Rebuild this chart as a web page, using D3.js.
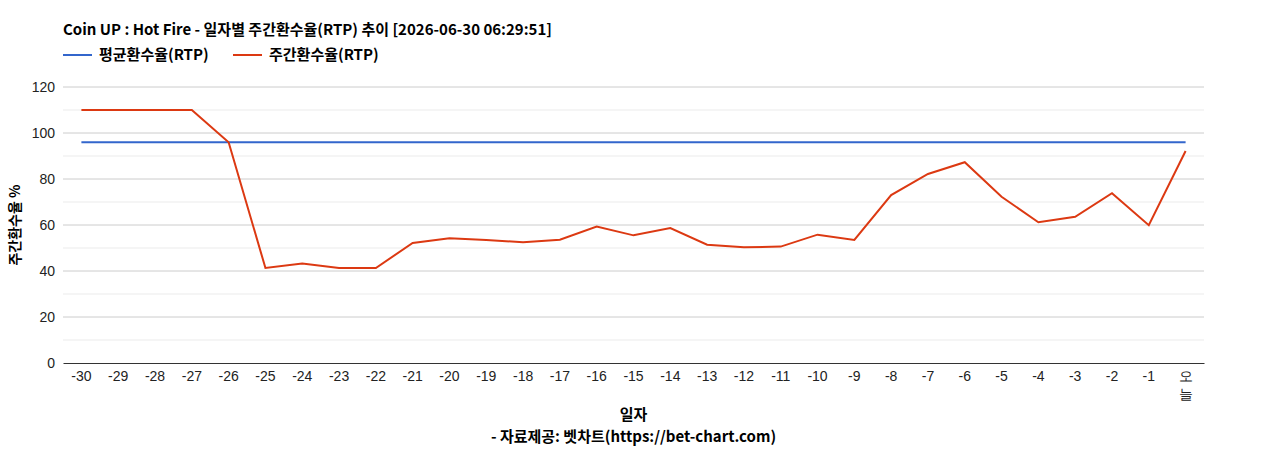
<!DOCTYPE html>
<html>
<head>
<meta charset="utf-8">
<script src="https://cdn.jsdelivr.net/npm/d3@7"></script>
<style>
  body { margin: 0; background: #fff; }
  svg { display: block; }
  .tick text { font-family: "Liberation Sans", Arial, sans-serif; font-size: 14px; fill: #222; }
  .bold { font-family: "Noto Sans CJK KR", "Noto Sans", sans-serif; font-weight: bold; font-size: 15px; fill: #000; }
</style>
</head>
<body>
<svg id="chart"></svg>
<script>
// data
const days = ["-30","-29","-28","-27","-26","-25","-24","-23","-22","-21","-20","-19","-18","-17","-16","-15",
              "-14","-13","-12","-11","-10","-9","-8","-7","-6","-5","-4","-3","-2","-1","오늘"];
const weeklyRtp = [110, 110, 110, 110, 96, 41.3, 43.3, 41.3, 41.3, 52.2, 54.2, 53.5, 52.5, 53.6, 59.3, 55.5,
                   58.7, 51.4, 50.3, 50.6, 55.8, 53.5, 73.0, 82.2, 87.3, 72.3, 61.2, 63.6, 73.8, 59.9, 92.2];
const avgRtp = days.map(() => 96);
const yTicks = [0, 20, 40, 60, 80, 100, 120];
const yMinor = [10, 30, 50, 70, 90, 110];

const width = 1268, height = 450;
const margin = { top: 87, left: 63, right: 64, bottom: 87 };
const w = width - margin.left - margin.right;
const h = height - margin.top - margin.bottom;

const svg = d3.select("#chart").attr("width", width).attr("height", height);
const g = svg.append("g").attr("transform", "translate(" + [margin.left, margin.top] + ")");

const x = d3.scaleBand().domain(days).range([0, w]);
const y = d3.scaleLinear().domain([0, 120]).range([h, 0]);
const cx = d => x(d) + x.bandwidth() / 2;

// gridlines
g.selectAll(".minor").data(yMinor).enter().append("line")
  .attr("x1", 0).attr("x2", w)
  .attr("y1", d => y(d)).attr("y2", d => y(d))
  .attr("stroke", "#ebebeb").attr("stroke-width", 1);
g.selectAll(".major").data(yTicks.filter(d => d > 0)).enter().append("line")
  .attr("x1", 0).attr("x2", w)
  .attr("y1", d => y(d)).attr("y2", d => y(d))
  .attr("stroke", "#cccccc").attr("stroke-width", 1);

// y axis
const yAxis = g.append("g")
  .call(d3.axisLeft(y).tickValues(yTicks).tickSize(0).tickPadding(8));
yAxis.select(".domain").remove();

// x axis
const xAxis = g.append("g")
  .attr("transform", "translate(0," + h + ")")
  .call(d3.axisBottom(x).tickSize(0).tickPadding(8));
xAxis.select(".domain").attr("stroke", "#333").attr("stroke-width", 1);
xAxis.selectAll(".tick text").each(function(d) {
  if (d.length === 2 && !d.startsWith("-")) {
    const t = d3.select(this).text("");
    t.append("tspan").attr("x", 0).attr("dy", "0.71em").text(d[0]);
    t.append("tspan").attr("x", 0).attr("dy", "1.3em").text(d[1]);
    t.attr("dy", null);
  }
});

// lines
const line = d3.line().x((d, i) => cx(days[i])).y(d => y(d));
g.append("path").datum(avgRtp)
  .attr("fill", "none").attr("stroke", "#3366cc").attr("stroke-width", 2)
  .attr("d", line);
g.append("path").datum(weeklyRtp)
  .attr("fill", "none").attr("stroke", "#dc3912").attr("stroke-width", 2)
  .attr("d", line);

// title
svg.append("text").attr("class", "bold")
  .attr("x", 63).attr("y", 35)
  .text("Coin UP : Hot Fire - 일자별 주간환수율(RTP) 추이 [2026-06-30 06:29:51]");

// legend
const legend = [
  { label: "평균환수율(RTP)", color: "#3366cc", x: 63 },
  { label: "주간환수율(RTP)", color: "#dc3912", x: 233 }
];
legend.forEach(l => {
  svg.append("line").attr("x1", l.x).attr("x2", l.x + 29).attr("y1", 55).attr("y2", 55)
    .attr("stroke", l.color).attr("stroke-width", 2);
  svg.append("text").attr("class", "bold").attr("x", l.x + 36).attr("y", 60).text(l.label);
});

// axis titles
svg.append("text").attr("class", "bold").style("font-size", "14px")
  .attr("transform", "translate(20," + (margin.top + h / 2) + ") rotate(-90)")
  .attr("text-anchor", "middle")
  .text("주간환수율 %");

svg.append("text").attr("class", "bold")
  .attr("x", margin.left + w / 2).attr("y", 420)
  .attr("text-anchor", "middle")
  .text("일자");

svg.append("text").attr("class", "bold")
  .attr("x", margin.left + w / 2).attr("y", 442)
  .attr("text-anchor", "middle")
  .text("- 자료제공: 벳차트(https://bet-chart.com)");
</script>
</body>
</html>
